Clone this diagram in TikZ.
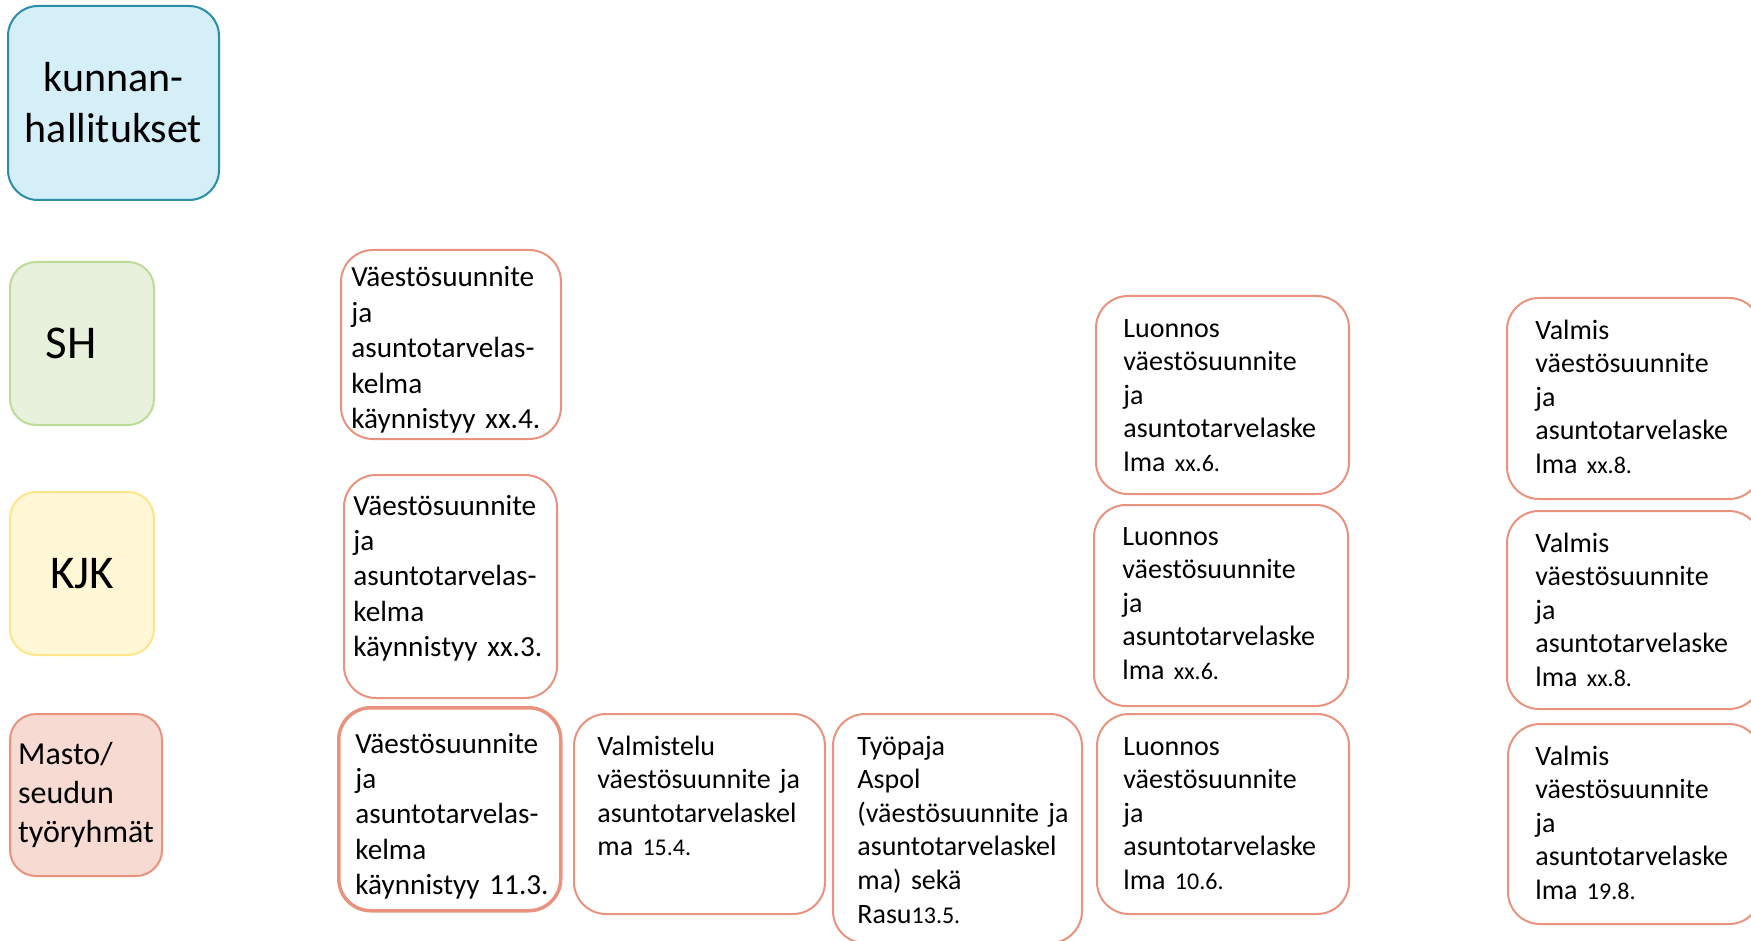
\documentclass[tikz,border=0pt]{standalone}
\usepackage{fontspec}
\setmainfont{Carlito}
\usepackage{tikz}

\definecolor{khfill}{HTML}{D4EFF8}
\definecolor{khdraw}{HTML}{2A8EA8}
\definecolor{shfill}{HTML}{E7F1DB}
\definecolor{shdraw}{HTML}{BDDB96}
\definecolor{kjkfill}{HTML}{FFF7D6}
\definecolor{kjkdraw}{HTML}{FFE48A}
\definecolor{mfill}{HTML}{F7DBD2}
\definecolor{mdraw}{HTML}{E9937E}

\newcommand{\pvm}[1]{{\fontsize{12}{14}\selectfont #1}}

\tikzset{
  ryhma/.style={draw, line width=1pt, rounded corners=13pt, inner sep=0pt, anchor=north west, align=center},
  vaihe/.style={draw=mdraw, line width=1pt, rounded corners=16pt, fill=white, inner sep=0pt, anchor=north west},
  teksti/.style={anchor=base west, inner sep=0pt, align=left, text width=150pt, font=\fontsize{14}{16.8}\selectfont},
  teksti1/.style={teksti, font=\fontsize{14.6}{17.7}\selectfont},
}

\begin{document}
\begin{tikzpicture}[x=0.5pt, y=-0.5pt]
    \useasboundingbox (0,0) rectangle (1751,941);
    \clip (0,0) rectangle (1751,941);
    % rivien otsikot
    \node[ryhma, fill=khfill, draw=khdraw, minimum width=105.5pt, minimum height=97pt, rounded corners=15pt, font=\fontsize{21}{25.5}\selectfont] (kh) at (7,5) {kunnan-\\hallitukset};
    \node[ryhma, fill=shfill, draw=shdraw, minimum width=72pt, minimum height=81.5pt, font=\fontsize{23.5}{28}\selectfont] (sh) at (9,261) {SH\hspace*{11pt}};
    \node[ryhma, fill=kjkfill, draw=kjkdraw, minimum width=72pt, minimum height=81.5pt, font=\fontsize{23.5}{28}\selectfont] (kjk) at (9,491) {KJK};
    \node[ryhma, fill=mfill, draw=mdraw, minimum width=76pt, minimum height=81pt, align=left, font=\fontsize{16}{19.5}\selectfont] (masto) at (9,713) {Masto/\\seudun\\työryhmät};
    % sarake 1
    \node[vaihe, minimum width=110pt, minimum height=94.5pt] (sh1) at (340,249) {};
    \node[teksti1] (sh1t) at ([shift={(11,38)}]sh1.north west) {Väestösuunnite\\ja\\asuntotarvelas-\\kelma\\käynnistyy xx.4.};
    \node[vaihe, minimum width=106.5pt, minimum height=111.5pt] (kjk1) at (343,474) {};
    \node[teksti1] (kjk1t) at ([shift={(10,41)}]kjk1.north west) {Väestösuunnite\\ja\\asuntotarvelas-\\kelma\\käynnistyy xx.3.};
    \node[vaihe, line width=1.75pt, minimum width=111pt, minimum height=101.5pt] (m1) at (337,706) {};
    \node[teksti1] (m1t) at ([shift={(18,47)}]m1.north west) {Väestösuunnite\\ja\\asuntotarvelas-\\kelma\\käynnistyy 11.3.};
    % sarakkeet 2 ja 3
    \node[vaihe, minimum width=125.5pt, minimum height=100pt] (m2) at (573,713) {};
    \node[teksti] (m2t) at ([shift={(24,42)}]m2.north west) {Valmistelu\\väestösuunnite ja\\asuntotarvelaskel\\ma \pvm{15.4.}};
    \node[vaihe, minimum width=124.5pt, minimum height=114.5pt] (m3) at (832,713) {};
    \node[teksti] (m3t) at ([shift={(25,42)}]m3.north west) {Työpaja\\Aspol\\(väestösuunnite ja\\asuntotarvelaskel\\ma) sekä\\Rasu\pvm{13.5.}};
    % sarake 4
    \node[vaihe, minimum width=126.5pt, minimum height=99pt] (sh4) at (1095,295) {};
    \node[teksti] (sh4t) at ([shift={(28,42)}]sh4.north west) {Luonnos\\väestösuunnite\\ja\\asuntotarvelaske\\lma \pvm{xx.6.}};
    \node[vaihe, minimum width=127pt, minimum height=100.5pt] (kjk4) at (1093,504) {};
    \node[teksti] (kjk4t) at ([shift={(29,41)}]kjk4.north west) {Luonnos\\väestösuunnite\\ja\\asuntotarvelaske\\lma \pvm{xx.6.}};
    \node[vaihe, minimum width=126pt, minimum height=100pt] (m4) at (1096,713) {};
    \node[teksti] (m4t) at ([shift={(27,42)}]m4.north west) {Luonnos\\väestösuunnite\\ja\\asuntotarvelaske\\lma \pvm{10.6.}};
    % sarake 5
    \node[vaihe, minimum width=127pt, minimum height=100.5pt] (sh5) at (1506,297) {};
    \node[teksti] (sh5t) at ([shift={(29,42)}]sh5.north west) {Valmis\\väestösuunnite\\ja\\asuntotarvelaske\\lma \pvm{xx.8.}};
    \node[vaihe, minimum width=127pt, minimum height=99pt] (kjk5) at (1506,510) {};
    \node[teksti] (kjk5t) at ([shift={(29,42)}]kjk5.north west) {Valmis\\väestösuunnite\\ja\\asuntotarvelaske\\lma \pvm{xx.8.}};
    \node[vaihe, minimum width=126.5pt, minimum height=100pt] (m5) at (1507,723) {};
    \node[teksti] (m5t) at ([shift={(28,42)}]m5.north west) {Valmis\\väestösuunnite\\ja\\asuntotarvelaske\\lma \pvm{19.8.}};
\end{tikzpicture}
\end{document}
